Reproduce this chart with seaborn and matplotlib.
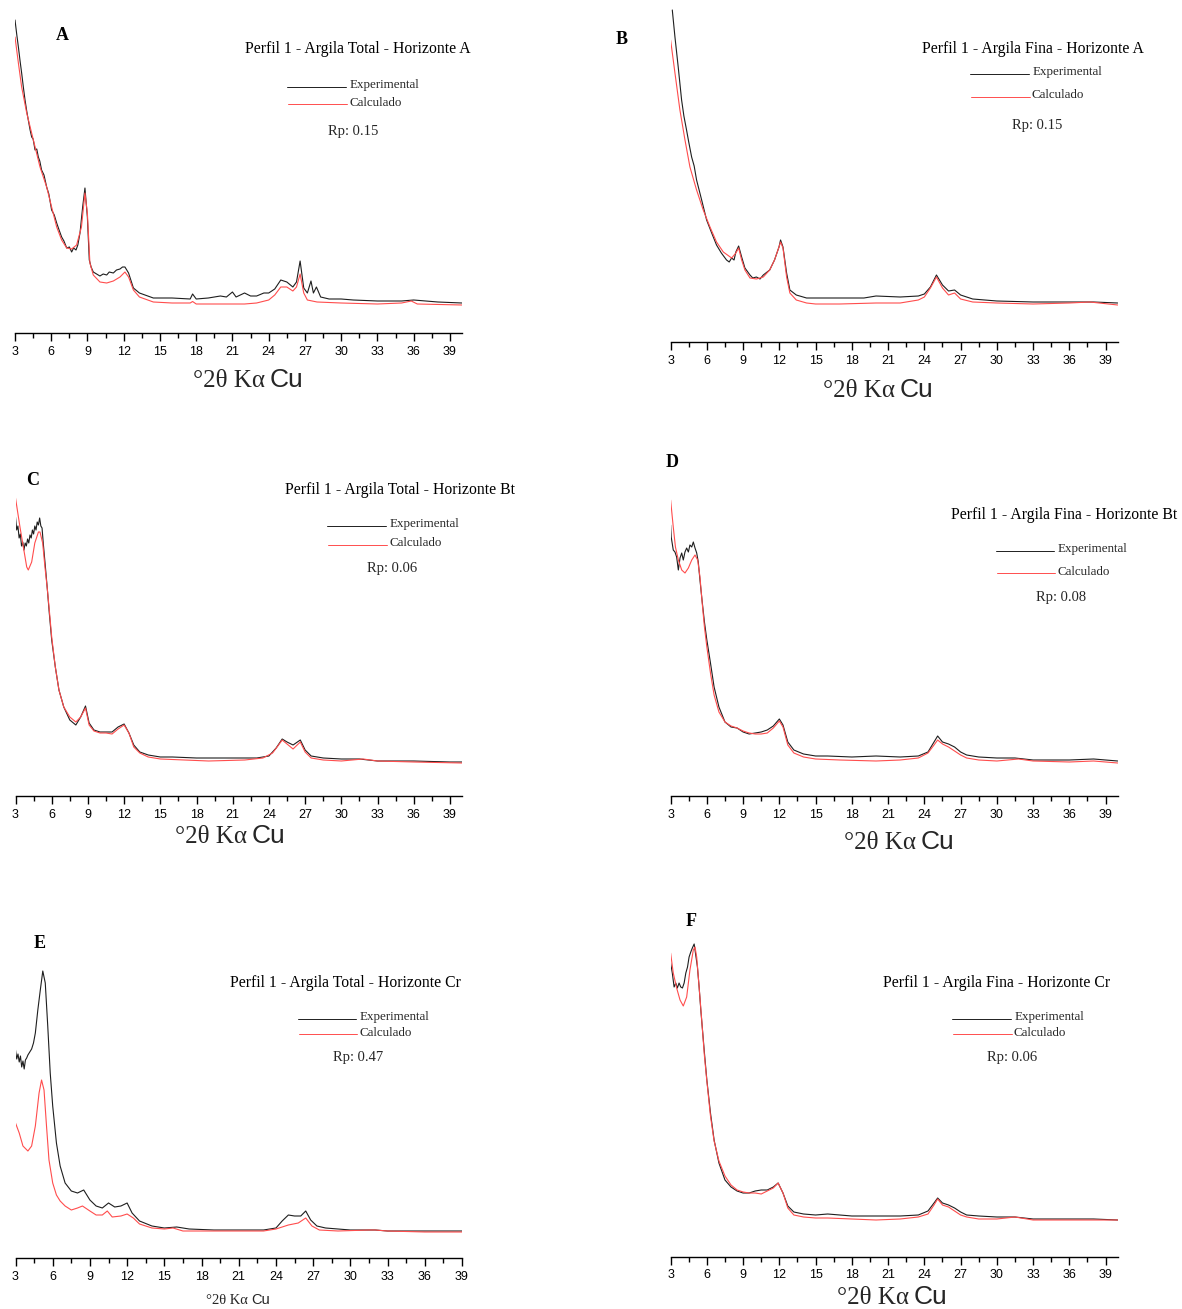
import matplotlib
matplotlib.use("Agg")
import matplotlib.pyplot as plt
import numpy as np
import pandas as pd
import seaborn as sns
from matplotlib.ticker import MultipleLocator
from matplotlib.lines import Line2D

# ---------------- data (intensity in arbitrary units vs 2theta) ----------------
xticks = [3, 6, 9, 12, 15, 18, 21, 24, 27, 30, 33, 36, 39]

a_exp_x = [3.0, 3.15, 3.28, 3.42, 3.55, 3.7, 3.83, 3.97, 4.1, 4.25, 4.38, 4.5, 4.66, 4.8, 4.93, 5.05, 5.2, 5.4,
           5.62, 5.8, 6.03, 6.25, 6.45, 6.65, 6.86, 7.05, 7.28, 7.5, 7.69, 7.85, 8.05, 8.2, 8.38, 8.6, 8.79, 8.99,
           9.15, 9.3, 9.48, 10.03, 10.3, 10.59, 10.8, 11.14, 11.4, 11.69, 11.9, 12.1, 12.4, 12.8, 13.3, 14.45,
           15.0, 16.0, 17.5, 17.7, 18.0, 19.0, 20.0, 20.5, 21.0, 21.3, 22.0, 22.5, 23.0, 23.6, 24.0, 24.5, 25.0,
           25.5, 26.0, 26.3, 26.6, 26.9, 27.2, 27.5, 27.7, 27.95, 28.3, 29.0, 30.0, 31.0, 33.0, 35.0, 36.0, 38.0,
           40.0]
a_exp_y = [313, 298, 286, 272, 260, 245, 233, 222, 213, 203, 196, 194, 183, 184, 176, 172, 163, 158,
           146, 139, 123, 118, 110, 103, 96, 92, 85, 86, 81, 85, 83, 88, 100, 126, 145, 116,
           73, 66, 61, 57, 59, 58, 61, 60, 63, 64, 66, 66, 60, 45, 40, 35,
           35, 35, 34, 39, 34, 35, 37, 36, 41, 36, 40, 37, 37, 40, 40, 44, 53,
           51, 46, 51, 72, 45, 40, 52, 40, 46, 36, 34, 34, 33, 32, 32, 33, 31,
           30]
a_calc_x = [3.0, 3.28, 3.55, 3.97, 4.52, 5.07, 5.62, 6.03, 6.45, 6.86, 7.28, 7.69, 8.1, 8.5, 8.79, 8.99, 9.2,
            9.48, 10.03, 10.59, 11.14, 11.69, 12.1, 12.4, 12.8, 13.3, 14.45, 16.0, 17.5, 17.7, 18.0, 20.0, 22.0,
            23.0, 24.0, 24.5, 25.0, 25.5, 26.0, 26.3, 26.6, 26.9, 27.2, 28.0, 30.0, 33.0, 35.0, 35.8, 36.3, 40.0]
a_calc_y = [296, 270, 246, 220, 193, 166, 146, 126, 106, 93, 85, 84, 88, 106, 140, 120, 70,
            58, 51, 50, 52, 56, 61, 56, 43, 36, 31, 30, 30, 31.5, 29, 29, 29,
            30, 33, 38, 46, 46, 42, 46, 59, 40, 33, 31, 30, 29, 30, 32, 29, 28]

b_exp_x = [3.14, 3.36, 3.63, 3.91, 4.1, 4.32, 4.5, 4.74, 4.95, 5.15, 5.57, 5.98, 6.4, 6.8, 7.2, 7.63, 7.85, 8.05,
           8.25, 8.4, 8.63, 8.88, 9.15, 9.57, 9.8, 10.1, 10.4, 10.67, 11.2, 11.6, 11.97, 12.1, 12.3, 12.6, 12.87,
           13.4, 14.25, 15.0, 17.0, 19.0, 20.0, 22.0, 23.5, 24.0, 24.5, 25.0, 25.5, 26.0, 26.5, 27.0, 28.0, 30.0,
           33.0, 36.0, 38.0, 40.0]
b_exp_y = [332, 305, 275, 242, 226, 212, 200, 185, 176, 162, 142, 122, 109, 97, 89, 82, 80, 84,
           82, 90, 96, 85, 74, 67, 64, 65, 63, 67, 72, 82, 95, 102, 95, 69, 52,
           47, 44, 44, 44, 44, 46, 45, 46, 48, 55, 67, 57, 51, 52, 47, 43, 41,
           40, 40, 40, 39]
b_calc_x = [3.0, 3.36, 3.77, 4.19, 4.6, 5.15, 5.7, 6.26, 6.8, 7.36, 8.05, 8.4, 8.63, 8.88, 9.15, 9.57, 10.1,
            10.67, 11.2, 11.6, 11.97, 12.1, 12.3, 12.6, 12.87, 13.4, 14.25, 15.0, 17.0, 20.0, 22.0, 23.5, 24.0,
            24.5, 25.0, 25.5, 26.0, 26.5, 27.0, 28.0, 30.0, 33.0, 36.0, 37.7, 40.0]
b_calc_y = [302, 269, 232, 202, 175, 152, 132, 115, 100, 90, 84, 89, 94, 82, 72, 64, 63,
            65, 72, 82, 95, 100, 94, 65, 49, 42, 39, 38, 38, 39, 39, 42, 45,
            54, 65, 54, 47, 49, 43, 40, 39, 38, 39, 40, 37]

c_exp_x = [3.0, 3.1, 3.2, 3.3, 3.4, 3.5, 3.6, 3.7, 3.8, 3.9, 4.0, 4.1, 4.2, 4.3, 4.4, 4.5, 4.6, 4.7, 4.8, 4.9,
           5.0, 5.1, 5.2, 5.3, 5.5, 5.63, 5.8, 6.0, 6.3, 6.6, 7.0, 7.5, 8.0, 8.4, 8.8, 9.1, 9.5, 10.0, 10.5, 11.0,
           11.5, 12.0, 12.4, 12.8, 13.3, 14.0, 15.0, 16.0, 18.0, 21.0, 23.0, 24.0, 24.6, 25.1, 25.5, 26.0, 26.6,
           27.0, 27.5, 28.5, 30.0, 31.5, 33.0, 36.0, 39.0, 40.0]
c_exp_y = [279, 266, 270, 258, 262, 250, 254, 246, 253, 250, 257, 253, 261, 258, 266, 262, 270, 266, 274, 271,
           278, 270, 268, 253, 226, 208, 183, 156, 129, 106, 89, 76, 71, 79, 90, 73, 66, 64, 64, 64,
           69, 72, 63, 51, 44, 41, 39, 39, 38, 38, 38, 40, 48, 57, 54, 51, 56,
           46, 40, 38, 37, 37, 35, 35, 34, 34]
c_calc_x = [3.0, 3.37, 3.65, 3.93, 4.06, 4.34, 4.6, 4.9, 5.03, 5.25, 5.44, 5.63, 5.8, 6.0, 6.3, 6.6, 7.0, 7.5,
            8.0, 8.4, 8.8, 9.1, 9.5, 10.0, 10.5, 11.0, 11.5, 12.0, 12.4, 12.8, 13.3, 14.0, 15.0, 17.0, 19.0, 22.0,
            23.5, 24.3, 24.8, 25.1, 25.5, 26.0, 26.6, 27.0, 27.5, 28.5, 30.0, 31.8, 33.0, 36.0, 40.0]
c_calc_y = [298, 269, 249, 229, 226, 234, 253, 264, 264, 253, 229, 208, 186, 159, 129, 106, 89, 79,
            74, 79, 88, 71, 65, 63, 63, 62, 67, 71, 63, 49, 43, 39, 37, 36, 35, 36,
            38, 43, 51, 56, 52, 47, 54, 44, 38, 36, 35, 37, 35, 34, 33]

d_exp_x = [3.0, 3.05, 3.22, 3.36, 3.5, 3.64, 3.78, 3.92, 4.05, 4.19, 4.33, 4.47, 4.6, 4.75, 4.88, 5.02, 5.16,
           5.29, 5.43, 5.6, 5.8, 6.0, 6.3, 6.6, 7.0, 7.5, 8.0, 8.5, 9.0, 9.5, 10.0, 10.5, 11.0, 11.5, 12.0, 12.3,
           12.7, 13.2, 14.0, 15.0, 16.0, 18.0, 20.0, 22.0, 23.5, 24.3, 24.8, 25.1, 25.5, 26.0, 26.5, 27.0, 27.5,
           28.5, 30.0, 31.5, 33.0, 36.0, 38.0, 40.0]
d_exp_y = [271, 259, 246, 244, 239, 226, 238, 243, 236, 244, 248, 244, 251, 249, 254, 248, 243,
           234, 216, 196, 174, 156, 133, 109, 89, 74, 69, 68, 64, 62, 63, 64, 66, 70, 77, 71,
           54, 46, 42, 40, 40, 39, 40, 39, 40, 44, 54, 60, 54, 52, 49, 44, 41,
           39, 38, 38, 36, 36, 37, 35]
d_calc_x = [3.0, 3.22, 3.4, 3.64, 3.92, 4.19, 4.47, 4.75, 5.02, 5.24, 5.43, 5.6, 5.8, 6.0, 6.3, 6.6, 7.0, 7.5,
            8.0, 8.5, 9.0, 9.5, 10.0, 10.5, 11.0, 11.5, 12.0, 12.3, 12.7, 13.2, 14.0, 15.0, 17.0, 20.0, 22.0,
            23.5, 24.3, 24.8, 25.1, 25.5, 26.0, 26.5, 27.0, 27.5, 28.5, 30.0, 31.8, 33.0, 36.0, 38.0, 40.0]
d_calc_y = [296, 269, 249, 236, 226, 223, 228, 236, 241, 236, 219, 195, 169, 149, 123, 101, 84, 74,
            70, 68, 65, 63, 62, 62, 63, 68, 75, 69, 51, 43, 39, 37, 36, 35, 36,
            38, 43, 51, 56, 52, 49, 45, 41, 38, 36, 35, 37, 35, 34, 35, 33]

e_exp_x = [3.0, 3.1, 3.2, 3.3, 3.4, 3.5, 3.6, 3.7, 3.8, 3.9, 4.0, 4.15, 4.3, 4.45, 4.6, 4.8, 5.0, 5.2, 5.4, 5.6,
           5.8, 6.0, 6.3, 6.6, 7.0, 7.5, 8.0, 8.5, 9.0, 9.5, 10.0, 10.5, 11.0, 11.5, 12.0, 12.4, 13.0, 14.0, 15.0,
           16.0, 17.0, 19.0, 21.0, 23.0, 24.0, 24.5, 25.0, 25.5, 26.0, 26.4, 26.8, 27.3, 28.0, 30.0, 32.0, 33.0,
           36.0, 38.0, 39.0]
e_exp_y = [208, 199, 204, 196, 202, 191, 197, 189, 198, 200, 203, 206, 209, 215, 225, 248, 268, 287, 275, 232,
           185, 152, 115, 92, 75, 67, 65, 68, 58, 52, 50, 55, 51, 52, 55, 45, 37, 32, 30,
           31, 29, 28, 28, 28, 30, 37, 43, 42, 42, 47, 38, 32, 30, 28, 28, 27,
           27, 27, 27]
e_calc_x = [3.0, 3.3, 3.6, 4.0, 4.3, 4.6, 4.9, 5.1, 5.3, 5.5, 5.7, 6.0, 6.3, 6.6, 7.0, 7.5, 8.0, 8.4, 9.0, 9.5,
            10.0, 10.4, 10.8, 11.5, 12.0, 12.5, 13.0, 14.0, 15.0, 15.7, 16.5, 18.0, 21.0, 23.0, 24.0, 25.0,
            25.8, 26.4, 26.9, 27.5, 29.0, 31.5, 32.0, 33.0, 36.0, 39.0]
e_calc_y = [135, 125, 112, 107, 112, 132, 165, 178, 168, 132, 98, 75, 63, 57, 52, 48, 50, 52, 47, 43,
            43, 47, 41, 42, 44, 40, 34, 30, 29, 30, 27, 27, 27, 27, 29, 33,
            35, 40, 32, 28, 27, 28, 28, 27, 26, 26]

f_exp_x = [3.0, 3.14, 3.29, 3.43, 3.56, 3.7, 3.84, 3.98, 4.12, 4.26, 4.4, 4.53, 4.67, 4.8, 4.95, 5.08, 5.22,
           5.36, 5.5, 5.8, 6.0, 6.3, 6.6, 7.0, 7.5, 8.0, 8.5, 9.0, 9.5, 10.0, 10.5, 11.0, 11.5, 11.9, 12.3, 12.7,
           13.2, 14.0, 15.0, 16.0, 18.0, 20.0, 22.0, 23.5, 24.3, 24.8, 25.1, 25.5, 26.0, 26.5, 27.0, 27.5, 28.5,
           30.0, 31.5, 33.0, 36.0, 38.0, 40.0]
f_exp_y = [294, 284, 270, 274, 269, 274, 270, 269, 274, 284, 290, 300, 305, 309, 313, 302, 290,
           270, 247, 204, 177, 144, 117, 94, 77, 70, 66, 64, 64, 66, 67, 67, 70, 74, 64, 51,
           45, 43, 42, 43, 41, 41, 41, 42, 46, 54, 59, 54, 52, 49, 45, 42, 41,
           40, 40, 38, 38, 38, 37]
f_calc_x = [3.0, 3.22, 3.5, 3.78, 4.05, 4.33, 4.6, 4.88, 5.02, 5.16, 5.36, 5.53, 5.8, 6.0, 6.3, 6.6, 7.0, 7.5,
            8.0, 8.5, 9.0, 9.5, 10.0, 10.5, 11.0, 11.5, 11.9, 12.3, 12.7, 13.2, 14.0, 15.0, 16.0, 18.0, 20.0,
            22.0, 23.5, 24.3, 24.8, 25.1, 25.5, 26.0, 26.5, 27.0, 27.5, 28.5, 30.0, 31.5, 33.0, 36.0, 40.0]
f_calc_y = [304, 284, 269, 257, 251, 260, 287, 307, 310, 300, 270, 244, 201, 176, 141, 116, 96, 81,
            72, 67, 65, 64, 64, 63, 66, 69, 74, 64, 49, 42, 40, 39, 39, 38, 37,
            38, 40, 43, 52, 58, 52, 50, 46, 42, 40, 38, 38, 40, 37, 37, 37]

panel_letters = ["A", "B", "C", "D", "E", "F"]
panel_titles = ["Perfil 1 - Argila Total - Horizonte A", "Perfil 1 - Argila Fina - Horizonte A",
                "Perfil 1 - Argila Total - Horizonte Bt", "Perfil 1 - Argila Fina - Horizonte Bt",
                "Perfil 1 - Argila Total - Horizonte Cr", "Perfil 1 - Argila Fina - Horizonte Cr"]
rp_values = ["0.15", "0.15", "0.06", "0.08", "0.47", "0.06"]
legend_labels = ["Experimental", "Calculado"]

series = [(a_exp_x, a_exp_y, a_calc_x, a_calc_y), (b_exp_x, b_exp_y, b_calc_x, b_calc_y),
          (c_exp_x, c_exp_y, c_calc_x, c_calc_y), (d_exp_x, d_exp_y, d_calc_x, d_calc_y),
          (e_exp_x, e_exp_y, e_calc_x, e_calc_y), (f_exp_x, f_exp_y, f_calc_x, f_calc_y)]

# ---------------- layout (pixels) ----------------
W, H = 1182, 1309
layout = [
    dict(l=15, r=462, base=333, top=5, xmax=40, letter=(62, 35), title=(358, 49),
         leg=(287, 346, 87, 104, 349), rp=(353, 131), xl=(247, 378, False)),
    dict(l=670.6, r=1117.7, base=342, top=3, xmax=40, letter=(622, 39), title=(1033, 49),
         leg=(970, 1029, 74, 97, 1032), rp=(1037, 125), xl=(877, 388, False)),
    dict(l=15.5, r=462, base=796, top=488, xmax=40, letter=(33, 481), title=(400, 490),
         leg=(327, 386, 526, 545, 389), rp=(392, 568), xl=(229, 834, False)),
    dict(l=670.6, r=1117.7, base=796, top=488, xmax=40, letter=(672, 462), title=(1064, 515),
         leg=(996, 1054, 551, 573, 1057), rp=(1061, 598), xl=(898, 840, False)),
    dict(l=15.5, r=462, base=1258, top=963, xmax=39, letter=(40, 943), title=(345, 983),
         leg=(298, 356, 1019, 1034, 359), rp=(358, 1057), xl=(238, 1299, True)),
    dict(l=670.6, r=1117.7, base=1257, top=937, xmax=40, letter=(691, 921), title=(997, 983),
         leg=(952, 1011, 1019, 1034, 1014), rp=(1012, 1057), xl=(891, 1295, False)),
]

sns.set_theme(style="white")
plt.rcParams["font.family"] = ["Liberation Sans", "DejaVu Sans"]
SERIF = ["Liberation Serif", "DejaVu Serif"]
SANS = ["Liberation Sans", "DejaVu Sans"]
EXP_COLOR = "#1e1e1e"
CALC_COLOR = "#ff4d4d"

fig = plt.figure(figsize=(W / 100, H / 100), dpi=100)
fig.patch.set_facecolor("white")


def fx(x):
    return x / W


def fy(y):
    return 1 - y / H


for i, (lay, (ex, ey, cx, cy)) in enumerate(zip(layout, series)):
    height = lay["base"] - lay["top"]
    ax = fig.add_axes([fx(lay["l"]), fy(lay["base"]), (lay["r"] - lay["l"]) / W, height / H])
    ax.patch.set_alpha(0)
    df_e = pd.DataFrame({"theta": ex, "I": ey})
    df_c = pd.DataFrame({"theta": cx, "I": cy})
    sns.lineplot(data=df_e, x="theta", y="I", ax=ax, color=EXP_COLOR, lw=0.8, sort=False, estimator=None)
    sns.lineplot(data=df_c, x="theta", y="I", ax=ax, color=CALC_COLOR, lw=0.8, sort=False, estimator=None)
    ax.set_xlim(3, lay["xmax"])
    ax.set_ylim(0, height)
    for s in ["left", "right", "top"]:
        ax.spines[s].set_visible(False)
    ax.spines["bottom"].set_color("black")
    ax.spines["bottom"].set_linewidth(1.0)
    ax.set_yticks([])
    ax.set_xticks(xticks)
    ax.xaxis.set_minor_locator(MultipleLocator(1.5))
    ax.tick_params(axis="x", which="major", direction="out", length=6, width=1, color="black",
                   pad=3, labelsize=9, bottom=True)
    ax.tick_params(axis="x", which="minor", direction="out", length=3.5, width=1, color="black", bottom=True)
    for lab in ax.get_xticklabels():
        lab.set_fontfamily(SANS)
        lab.set_color("black")
    ax.set_xlabel("")
    ax.set_ylabel("")

    fig.text(fx(lay["letter"][0]), fy(lay["letter"][1]), panel_letters[i], family=SERIF, weight="bold",
             fontsize=13, ha="center", va="center", color="black")
    fig.text(fx(lay["title"][0]), fy(lay["title"][1]), panel_titles[i], family=SERIF, fontsize=11.3,
             ha="center", va="center", color="black")
    x1, x2, ye, yc, tx = lay["leg"]
    fig.add_artist(Line2D([fx(x1), fx(x2)], [fy(ye), fy(ye)], transform=fig.transFigure,
                          color=EXP_COLOR, lw=0.7))
    fig.add_artist(Line2D([fx(x1 + 1), fx(x2 + 1)], [fy(yc), fy(yc)], transform=fig.transFigure,
                          color=CALC_COLOR, lw=0.7))
    fig.text(fx(tx + 1), fy(ye - 2), legend_labels[0], family=SERIF, fontsize=9.4, ha="left", va="center")
    fig.text(fx(tx), fy(yc - 1.5), legend_labels[1], family=SERIF, fontsize=9.4, ha="left", va="center")
    fig.text(fx(lay["rp"][0]), fy(lay["rp"][1]), "Rp: " + rp_values[i], family=SERIF, fontsize=10.5,
             ha="center", va="center")
    xc, yl, small = lay["xl"]
    if small:
        fig.text(fx(xc + 10), fy(yl + 5), "°2θ Kα", family=SERIF, fontsize=10.5, ha="right", va="baseline")
        fig.text(fx(xc + 13), fy(yl + 5), "Cu", family=SANS, fontsize=10.5, ha="left", va="baseline")
    else:
        fig.text(fx(xc + 18), fy(yl + 9), "°2θ Kα", family=SERIF, fontsize=18, ha="right", va="baseline")
        fig.text(fx(xc + 23), fy(yl + 9), "Cu", family=SANS, fontsize=19, ha="left", va="baseline")

fig.savefig("out.png", dpi=100, facecolor="white")
